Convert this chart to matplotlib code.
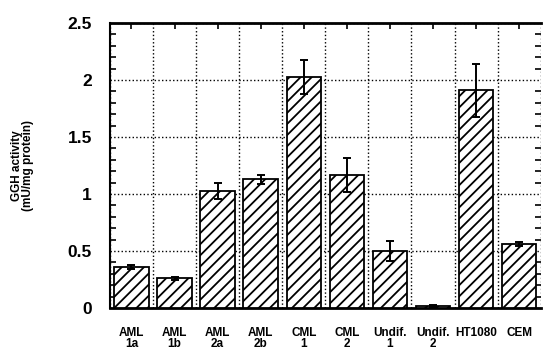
import matplotlib.pyplot as plt
import numpy as np
from matplotlib.ticker import MultipleLocator

# GGH activity per cell sample
labels = ['AML\n1a', 'AML\n1b', 'AML\n2a', 'AML\n2b', 'CML\n1', 'CML\n2',
          'Undif.\n1', 'Undif.\n2', 'HT1080', 'CEM']
activity = [0.36, 0.26, 1.03, 1.13, 2.03, 1.17, 0.50, 0.02, 1.91, 0.56]
errors = [0.02, 0.01, 0.07, 0.04, 0.15, 0.15, 0.09, 0.01, 0.23, 0.02]

plt.rcParams['hatch.linewidth'] = 1.3

fig = plt.figure(figsize=(5.44, 3.5), dpi=100)
ax = fig.add_axes([0.202, 0.12, 0.792, 0.814])

x = np.arange(len(labels))
ax.bar(x, activity, width=0.8, color='white', edgecolor='black',
       linewidth=1.3, hatch='///', zorder=3)
ax.errorbar(x, activity, yerr=errors, fmt='none', ecolor='black',
            elinewidth=1.4, capsize=3, capthick=1.4, zorder=4)

ax.set_xlim(-0.5, len(labels) - 0.5)
ax.set_ylim(0, 2.5)

# gridlines at the category boundaries, labels at the centres
ax.set_xticks(np.arange(len(labels) + 1) - 0.5)
ax.set_xticklabels([])
ax.set_xticks(x, minor=True)
ax.set_xticklabels(labels, minor=True, fontsize=8.5, fontweight='bold',
                   family=['Liberation Sans Narrow', 'Liberation Sans', 'DejaVu Sans'],
                   linespacing=0.8)
ax.tick_params(axis='x', which='major', length=0)
ax.tick_params(axis='x', which='minor', direction='in', length=4, width=1.2,
               top=True, bottom=False, pad=14)

ax.yaxis.set_major_locator(MultipleLocator(0.5))
ax.yaxis.set_minor_locator(MultipleLocator(0.1))
ax.set_yticks([0, 0.5, 1, 1.5, 2, 2.5])
ax.set_yticklabels(['0', '0.5', '1', '1.5', '2', '2.5'], fontsize=12.5,
                   fontweight='bold', family=['Liberation Sans', 'DejaVu Sans'])
ax.tick_params(axis='y', which='both', direction='in', left=True, right=True,
               width=1.2, pad=13)
ax.tick_params(axis='y', which='major', length=0)
ax.tick_params(axis='y', which='minor', length=4)

ax.grid(True, which='major', color='black', linestyle=':', linewidth=1.0,
        zorder=0)

for side in ['top', 'bottom']:
    ax.spines[side].set_linewidth(2)
ax.spines['left'].set_linewidth(1.5)
ax.spines['right'].set_visible(False)

ax.set_ylabel('GGH activity\n(mU/mg protein)', fontsize=8.5, fontweight='bold',
              family=['Liberation Sans', 'DejaVu Sans'], linespacing=0.95,
              labelpad=24)

fig.savefig('out.png', dpi=100)
